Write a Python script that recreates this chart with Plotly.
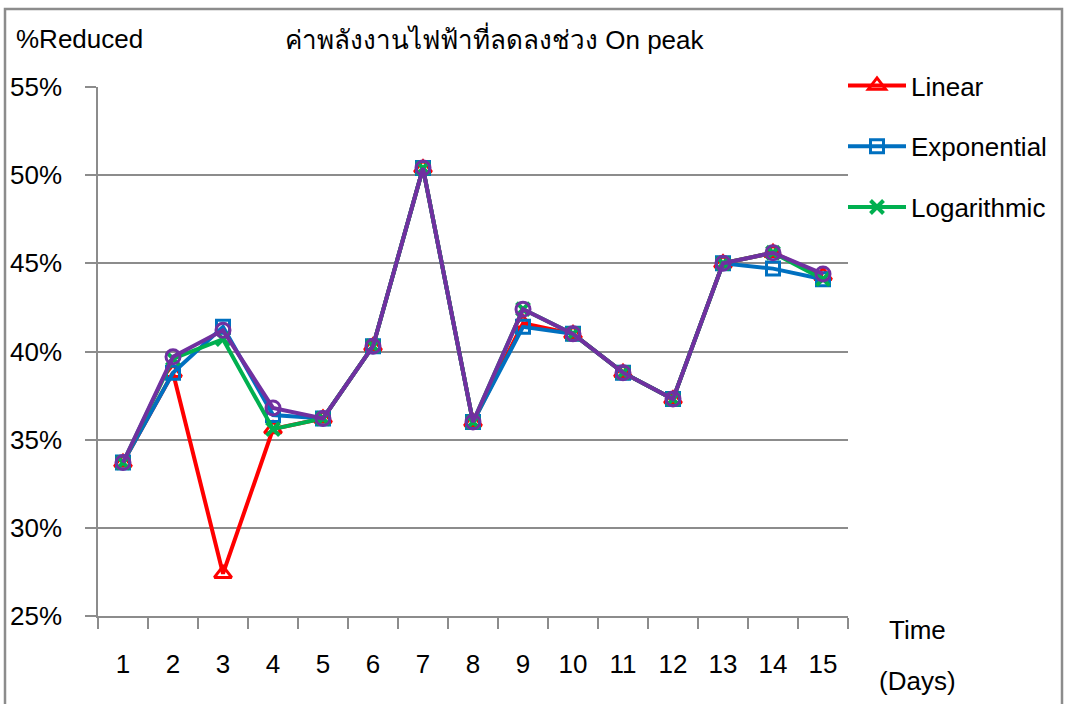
import plotly.graph_objects as go

days = [str(i) for i in range(1, 16)]
linear      = [33.7, 38.8, 27.4, 35.6, 36.2, 40.3, 50.4, 36.0, 41.6, 41.0, 38.8, 37.3, 45.0, 45.6, 44.3]
exponential = [33.7, 38.8, 41.4, 36.4, 36.2, 40.3, 50.4, 36.0, 41.4, 41.0, 38.8, 37.3, 45.0, 44.7, 44.1]
logarithmic = [33.7, 39.6, 40.7, 35.6, 36.2, 40.3, 50.4, 36.0, 42.4, 41.0, 38.8, 37.3, 45.0, 45.6, 44.1]
polynomial  = [33.7, 39.7, 41.2, 36.8, 36.2, 40.3, 50.4, 36.0, 42.4, 41.0, 38.8, 37.3, 45.0, 45.6, 44.4]

y_ticks = [25, 30, 35, 40, 45, 50, 55]
y_labels = [f"{v}%" for v in y_ticks]

FONT = "Liberation Sans, Arial, sans-serif"
GRID = "#8c8c8c"
FS = 26

fig = go.Figure()

def add(name, vals, color, symbol, size, lw, show=True):
    fig.add_trace(go.Scatter(
        x=days, y=vals, name=name, mode="lines+markers",
        line=dict(color=color, width=4),
        marker=dict(symbol=symbol, size=size, color=color,
                    line=dict(color=color, width=lw)),
        showlegend=show, legendgroup=name,
    ))

add("Linear", linear, "#FF0000", "triangle-up-open", 15, 3)
add("Exponential", exponential, "#0070C0", "square-open", 13, 3)
add("Logarithmic", logarithmic, "#00B050", "x-thin", 13, 4)
add("Polynomial", polynomial, "#7030A0", "circle-open", 14, 3, show=False)

fig.update_layout(
    width=1066, height=704,
    margin=dict(l=98, r=218, t=87, b=88, autoexpand=False),
    paper_bgcolor="white", plot_bgcolor="white",
    font=dict(family=FONT, size=FS, color="#000000"),
    xaxis=dict(
        type="category", tickson="boundaries", ticks="outside", ticklen=11,
        tickcolor=GRID, tickwidth=1.5, showgrid=False,
        showline=True, linecolor=GRID, linewidth=1.5,
        tickfont=dict(size=FS), ticklabelstandoff=24,
        range=[-0.5, 14.5], automargin=False,
    ),
    yaxis=dict(
        range=[25, 55], tickvals=y_ticks, ticktext=y_labels,
        ticks="outside", ticklen=11, tickcolor=GRID, tickwidth=1.5,
        showgrid=True, gridcolor=GRID, gridwidth=1.5,
        showline=True, linecolor=GRID, linewidth=1.5,
        zeroline=False, tickfont=dict(size=FS), ticklabelstandoff=18,
        automargin=False,
    ),
    legend=dict(
        x=843 / 1066, y=1 - 62 / 704, xanchor="left", yanchor="top",
        xref="container", yref="container",
        font=dict(size=FS), bgcolor="rgba(0,0,0,0)",
        traceorder="grouped", tracegroupgap=24, itemwidth=58,
    ),
    showlegend=True,
)

def px_x(px):
    return (px - 98) / 750

def px_y(py):
    return 1 - (py - 87) / 529

fig.add_annotation(text="%Reduced", xref="paper", yref="paper",
                   x=px_x(14), y=px_y(39),
                   xanchor="left", yanchor="middle", showarrow=False,
                   font=dict(size=FS))
fig.add_annotation(text="ค่าพลังงานไฟฟ้าที่ลดลงช่วง On peak", xref="paper", yref="paper",
                   x=px_x(495), y=px_y(38),
                   xanchor="center", yanchor="middle", showarrow=False,
                   font=dict(size=FS))
fig.add_annotation(text="Time", xref="paper", yref="paper",
                   x=px_x(917), y=px_y(630),
                   xanchor="center", yanchor="middle", showarrow=False,
                   font=dict(size=FS))
fig.add_annotation(text="(Days)", xref="paper", yref="paper",
                   x=px_x(917), y=px_y(681),
                   xanchor="center", yanchor="middle", showarrow=False,
                   font=dict(size=FS))

fig.add_shape(type="rect", xref="paper", yref="paper",
              x0=px_x(5), x1=px_x(1062),
              y0=px_y(760), y1=px_y(9),
              line=dict(color="#8c8c8c", width=2.5), layer="below")

fig.write_html("out.html", config={"displayModeBar": False},
               post_script="document.body.style.margin='0';document.body.style.overflow='hidden';")
